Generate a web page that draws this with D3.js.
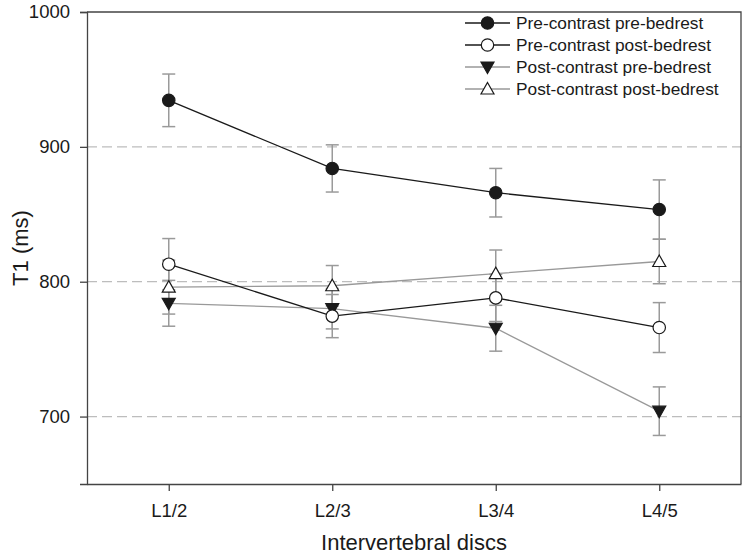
<!DOCTYPE html>
<html>
<head>
<meta charset="utf-8">
<script src="https://cdn.jsdelivr.net/npm/d3@7"></script>
<style>
  html, body { margin: 0; padding: 0; background: #fff; }
  text { font-family: "Liberation Sans", Arial, sans-serif; fill: #1a1a1a; }
</style>
</head>
<body>
<svg id="chart" width="748" height="554"></svg>
<script>
const categories = ["L1/2", "L2/3", "L3/4", "L4/5"];
const seriesNames = ["Pre-contrast pre-bedrest", "Pre-contrast post-bedrest", "Post-contrast pre-bedrest", "Post-contrast post-bedrest"];
const preContrastPreBedrest = [934.5, 884, 866, 853.5];
const preContrastPreBedrestErr = [19.5, 17.5, 18, 22];
const preContrastPostBedrest = [813, 774.5, 788, 766];
const preContrastPostBedrestErr = [19, 16, 17.5, 18.5];
const postContrastPreBedrest = [784, 780, 765.5, 704];
const postContrastPreBedrestErr = [17, 15, 17, 18];
const postContrastPostBedrest = [796, 797, 806, 815];
const postContrastPostBedrestErr = [20, 15, 17.5, 16.5];
const yTicks = [700, 800, 900, 1000];
const yGrid = [700, 800, 900];

const series = [
  { name: seriesNames[0], values: preContrastPreBedrest, err: preContrastPreBedrestErr, line: "#1a1a1a", marker: "circle", fill: "#1a1a1a" },
  { name: seriesNames[1], values: preContrastPostBedrest, err: preContrastPostBedrestErr, line: "#1a1a1a", marker: "circle", fill: "#fff" },
  { name: seriesNames[2], values: postContrastPreBedrest, err: postContrastPreBedrestErr, line: "#999", marker: "down", fill: "#1a1a1a" },
  { name: seriesNames[3], values: postContrastPostBedrest, err: postContrastPostBedrestErr, line: "#999", marker: "up", fill: "#fff" }
];

const svg = d3.select("#chart");
const L = 87, R = 741, T = 12, B = 484;

const x = d3.scaleLinear().domain([0.5, 4.5]).range([L, R]);
const y = d3.scaleLinear().domain([650, 1000]).range([B, T]);

// grid
svg.append("g").selectAll("line").data(yGrid).join("line")
  .attr("x1", L).attr("x2", R)
  .attr("y1", d => y(d)).attr("y2", d => y(d))
  .attr("stroke", "#bdbdbd").attr("stroke-width", 1.3)
  .attr("stroke-dasharray", "10,5");

// frame top/right
svg.append("path")
  .attr("d", `M${L},${T}H${R}V${B}`)
  .attr("fill", "none").attr("stroke", "#444").attr("stroke-width", 1.3);

const FONT = "Liberation Sans, Arial, sans-serif";
// axes
const yAxis = d3.axisLeft(y).tickValues(yTicks).tickSize(7).tickPadding(10).tickFormat(d3.format("d"));
const gy = svg.append("g").attr("transform", `translate(${L},0)`).call(yAxis);
gy.select(".domain").attr("stroke", "#444").attr("stroke-width", 1.3);
gy.selectAll(".tick line").attr("stroke", "#444").attr("stroke-width", 1.3);
gy.selectAll(".tick text").style("font-size", "18.5px").attr("fill", "#1a1a1a").style("font-family", FONT);

const xAxis = d3.axisBottom(x).tickValues([1, 2, 3, 4]).tickSize(7).tickPadding(13)
  .tickFormat(d => categories[d - 1]).tickSizeOuter(0);
const gx = svg.append("g").attr("transform", `translate(0,${B})`).call(xAxis);
gx.select(".domain").attr("stroke", "#444").attr("stroke-width", 1.3);
gx.selectAll(".tick line").attr("stroke", "#444").attr("stroke-width", 1.3);
gx.selectAll(".tick text").style("font-size", "18.5px").attr("fill", "#1a1a1a").style("font-family", FONT);

// axis titles
svg.append("text").attr("x", (L + R) / 2).attr("y", 550).attr("text-anchor", "middle")
  .style("font-size", "22px").attr("fill", "#1a1a1a").text("Intervertebral discs");
svg.append("text").attr("transform", `translate(28,${(T + B) / 2}) rotate(-90)`).attr("text-anchor", "middle")
  .style("font-size", "22px").attr("fill", "#1a1a1a").text("T1 (ms)");

function markerPath(type) {
  if (type === "up") return "M0,-6.5L6.5,5L-6.5,5Z";
  if (type === "down") return "M0,6.5L6.5,-5L-6.5,-5Z";
  return null;
}

function drawMarker(g, s, cx, cy) {
  if (s.marker === "circle") {
    g.append("circle").attr("cx", cx).attr("cy", cy).attr("r", 6.2)
      .attr("fill", s.fill).attr("stroke", "#1a1a1a").attr("stroke-width", 1.2);
  } else {
    g.append("path").attr("d", markerPath(s.marker))
      .attr("transform", `translate(${cx},${cy})`)
      .attr("fill", s.fill).attr("stroke", "#1a1a1a").attr("stroke-width", 1.2);
  }
}

const line = d3.line().x((d, i) => x(i + 1)).y(d => y(d));

// error bars (drawn first)
series.forEach(s => {
  const g = svg.append("g");
  s.values.forEach((v, i) => {
    const cx = x(i + 1), hi = y(v + s.err[i]), lo = y(v - s.err[i]);
    g.append("line").attr("x1", cx).attr("x2", cx).attr("y1", hi).attr("y2", lo)
      .attr("stroke", "#9a9a9a").attr("stroke-width", 1.5);
    [hi, lo].forEach(yy => g.append("line").attr("x1", cx - 6.5).attr("x2", cx + 6.5)
      .attr("y1", yy).attr("y2", yy).attr("stroke", "#9a9a9a").attr("stroke-width", 1.5));
  });
});

// lines + markers, drawn in reverse so black series on top
[3, 2, 1, 0].forEach(k => {
  const s = series[k];
  const g = svg.append("g");
  g.append("path").attr("d", line(s.values)).attr("fill", "none")
    .attr("stroke", s.line).attr("stroke-width", 1.3);
  s.values.forEach((v, i) => drawMarker(g, s, x(i + 1), y(v)));
});

// legend
const leg = svg.append("g");
series.forEach((s, i) => {
  const yy = 23 + i * 22;
  leg.append("line").attr("x1", 465).attr("x2", 510).attr("y1", yy).attr("y2", yy)
    .attr("stroke", s.line).attr("stroke-width", 1.3);
  drawMarker(leg, s, 487.5, yy);
  leg.append("text").attr("x", 516).attr("y", yy + 6).style("font-size", "17.3px")
    .attr("fill", "#1a1a1a").text(s.name);
});
</script>
</body>
</html>
